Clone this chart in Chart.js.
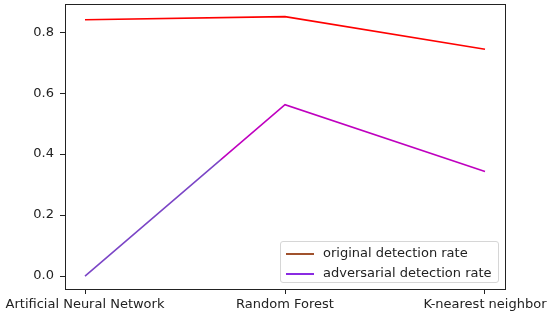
<!DOCTYPE html>
<html>
<head>
<meta charset="utf-8">
<script src="https://cdn.jsdelivr.net/npm/chart.js@4/dist/chart.umd.min.js"></script>
<style>
  html, body { margin: 0; padding: 0; background: #fff; }
  #wrap { position: relative; width: 550px; height: 317px; }
  #legend {
    position: absolute; left: 280px; top: 241px; width: 217px; height: 40px;
    border: 1px solid #d6d6d6; border-radius: 3px; background: rgba(255,255,255,0.8);
    font-family: "DejaVu Sans", sans-serif; font-size: 13px; color: #222;
  }
  .row { position: absolute; left: 5px; height: 15px; line-height: 15px; white-space: nowrap; }
  .row i { display: inline-block; width: 28px; height: 2px; vertical-align: middle; margin-right: 9px; }
</style>
</head>
<body>
<div id="wrap">
  <canvas id="c" width="550" height="317"></canvas>
  <div id="legend"></div>
</div>
<script>
const categories = ["Artificial Neural Network", "Random Forest", "K-nearest neighbor"];
const originalRate = [0.841, 0.851, 0.744];
const adversarialRate = [0.0, 0.562, 0.343];
const yTicks = [0.0, 0.2, 0.4, 0.6, 0.8];
const legendLabels = ["original detection rate", "adversarial detection rate"];
const legendColors = ["#a0522d", "#8a2be2"];

const font = { family: "DejaVu Sans", size: 13 };
const textColor = "#222";

// adversarial line: purple near the first point, magenta after
function adversarialStroke(ctx) {
    const chart = ctx.chart;
    const area = chart.chartArea;
    if (!area) return "#bf00bf";
    const xs = chart.scales.x;
    const x0 = xs.getPixelForValue(xs.min), x1 = xs.getPixelForValue(xs.max);
    const cut = xs.getPixelForValue(0.68);
    const g = chart.ctx.createLinearGradient(x0, 0, x1, 0);
    const f = (cut - x0) / (x1 - x0);
    g.addColorStop(0, "#7b45c6");
    g.addColorStop(f, "#7b45c6");
    g.addColorStop(Math.min(f + 0.001, 1), "#bf00bf");
    g.addColorStop(1, "#bf00bf");
    return g;
}

// axes box, taken from the scales
const frame = {
    id: "frame",
    afterDraw(chart) {
        const { ctx } = chart;
        const xs = chart.scales.x, ys = chart.scales.y;
        const l = Math.round(xs.getPixelForValue(xs.min)) + 0.5;
        const r = Math.round(xs.getPixelForValue(xs.max)) + 0.5;
        const t = Math.round(ys.getPixelForValue(ys.max)) + 0.5;
        const b = Math.round(ys.getPixelForValue(ys.min)) + 0.5;
        ctx.save();
        ctx.strokeStyle = "#222";
        ctx.lineWidth = 1;
        ctx.strokeRect(l, t, r - l, b - t);
        ctx.restore();
    }
};

new Chart(document.getElementById("c"), {
    type: "line",
    data: {
        datasets: [
            {
                label: legendLabels[0],
                data: originalRate.map((v, i) => ({ x: i, y: v })),
                borderColor: "#ff0000",
                borderWidth: 1.6,
                pointRadius: 0,
                tension: 0
            },
            {
                label: legendLabels[1],
                data: adversarialRate.map((v, i) => ({ x: i, y: v })),
                borderColor: adversarialStroke,
                borderWidth: 1.6,
                pointRadius: 0,
                tension: 0
            }
        ]
    },
    options: {
        responsive: false,
        animation: false,
        layout: { padding: { top: 4, right: 45, left: 0, bottom: 0 } },
        plugins: { legend: { display: false }, tooltip: { enabled: false } },
        scales: {
            x: {
                type: "linear",
                min: -0.1,
                max: 2.1,
                afterBuildTicks: s => { s.ticks = categories.map((c, i) => ({ value: i })); },
                afterFit: s => { s.height = 28; s.paddingLeft = 0; s.paddingRight = 0; },
                ticks: {
                    callback: v => categories[v],
                    font: font, color: textColor, padding: 3, maxRotation: 0, autoSkip: false
                },
                grid: { drawOnChartArea: false, tickLength: 5, color: "#222" },
                border: { display: false }
            },
            y: {
                min: -0.0425,
                max: 0.8925,
                afterBuildTicks: s => { s.ticks = yTicks.map(v => ({ value: v })); },
                afterFit: s => { s.width = 65; s.paddingTop = 0; s.paddingBottom = 0; },
                ticks: {
                    callback: v => v.toFixed(1),
                    font: font, color: textColor, padding: 6
                },
                grid: { drawOnChartArea: false, tickLength: 5, color: "#222" },
                border: { display: false }
            }
        }
    },
    plugins: [frame]
});

const legend = document.getElementById("legend");
legendLabels.forEach((t, i) => {
    const row = document.createElement("div");
    row.className = "row";
    row.style.top = (3 + i * 20) + "px";
    row.innerHTML = '<i style="background:' + legendColors[i] + '"></i>' + t;
    legend.appendChild(row);
});
</script>
</body>
</html>
